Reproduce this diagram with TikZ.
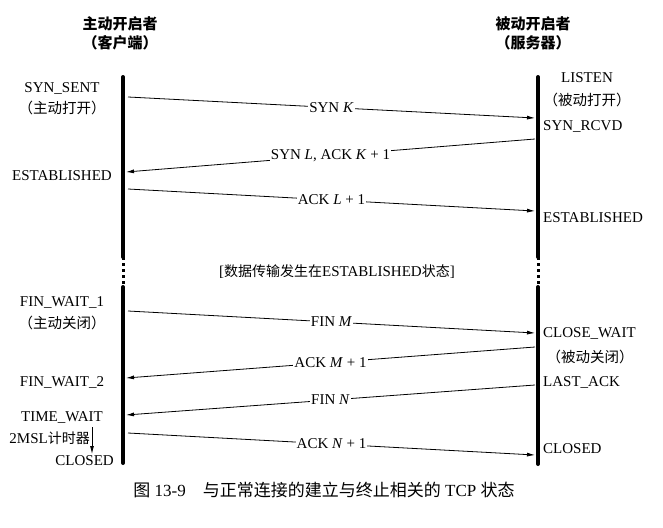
\documentclass[tikz,border=0pt]{standalone}
\usepackage{fontspec}
\setmainfont{Liberation Serif}
\newfontfamily\cjk{Noto Sans CJK SC}
\usetikzlibrary{arrows.meta,positioning}
\tikzset
{
    header/.style   = {font=\cjk\bfseries\fontsize{15}{19}\selectfont, align=center},
    state/.style    = {font=\fontsize{15}{17}\selectfont, inner sep=0pt},
    remark/.style   = {font=\cjk\fontsize{14.5}{17}\selectfont, inner sep=0pt},
    message/.style  = {font=\fontsize{15}{17}\selectfont, fill=white, inner sep=1pt},
    lifeline/.style = {line width=4pt, line cap=round},
    gapline/.style  = {line width=3pt, dash pattern=on 2.5pt off 3.5pt},
    arrow/.style    = {->, >={Latex[length=8pt, width=4pt]}, line width=0.8pt}
}

\begin{document}
\begin{tikzpicture}[x=1pt, y=-1pt]
   \newcommand\LEFTX{62}
   \newcommand\RIGHTX{543}
   \newcommand\NOTEDY{19}
   \useasboundingbox (0, 0) rectangle (663, 527);

   %% lifelines
   \coordinate (lt)  at (123, 77);
   \coordinate (lg1) at (123, 257);
   \coordinate (lg2) at (123, 287);
   \coordinate (lb)  at (123, 463);
   \coordinate (rt)  at (538, 77);
   \coordinate (rg1) at (538, 257);
   \coordinate (rg2) at (538, 287);
   \coordinate (rb)  at (538, 464);
   \draw[lifeline] (lt) -- (lg1) (lg2) -- (lb);
   \draw[lifeline] (rt) -- (rg1) (rg2) -- (rb);
   \draw[gapline]  (lg1) -- (lg2);
   \draw[gapline]  (rg1) -- (rg2);

   %% ends of the messages on the lifelines
   \coordinate (l1) at (128, 97);   \coordinate (r1) at (535, 118);
   \coordinate (r2) at (535, 139);  \coordinate (l2) at (126, 172);
   \coordinate (l3) at (128, 189);  \coordinate (r3) at (535, 211);
   \coordinate (l4) at (128, 311);  \coordinate (r4) at (535, 333);
   \coordinate (r5) at (535, 347);  \coordinate (l5) at (126, 378);
   \coordinate (r6) at (535, 385);  \coordinate (l6) at (126, 415);
   \coordinate (l7) at (128, 433);  \coordinate (r7) at (535, 455);
   \coordinate (tmtop) at (92, 427);
   \coordinate (tmbot) at (92, 454);

   %% headers
   \node (client) [header]  at (120, 33)  {主动开启者\\（客户端）};
   \node (server) [header]  at (533, 33)  {被动开启者\\（服务器）};

   %% client states
   \node (sent)    [state]              at (\LEFTX, 89)                {SYN\_SENT};
   \node (sentn)   [remark]             at ([shift=({0, \NOTEDY})]sent) {（主动打开）};
   \node (estl)    [state]              at (\LEFTX, 176)               {ESTABLISHED};
   \node (fw1)     [state]              at (\LEFTX, 303)               {FIN\_WAIT\_1};
   \node (fw1n)    [remark]             at ([shift=({0, 20})]fw1)      {（主动关闭）};
   \node (fw2)     [state]              at (\LEFTX, 382)               {FIN\_WAIT\_2};
   \node (tw)      [state]              at (\LEFTX, 418)               {TIME\_WAIT};
   \node (msl)     [state, anchor=east] at (90, 438)                   {2MSL{\cjk\fontsize{14}{16}\selectfont 计时器}};
   \node (closedl) [state, anchor=east] at (114, 461)                  {CLOSED};

   %% server states
   \node (listen)  [state]              at (587, 78)                   {LISTEN};
   \node (listenn) [remark]             at ([shift=({0, 22})]listen)   {（被动打开）};
   \node (rcvd)    [state, anchor=west] at (\RIGHTX, 126)              {SYN\_RCVD};
   \node (estr)    [state, anchor=west] at (\RIGHTX, 218)              {ESTABLISHED};
   \node (cw)      [state, anchor=west] at (\RIGHTX, 333)              {CLOSE\_WAIT};
   \node (cwn)     [remark]             at (590, 357)                  {（被动关闭）};
   \node (lastack) [state, anchor=west] at (\RIGHTX, 382)              {LAST\_ACK};
   \node (closedr) [state, anchor=west] at (\RIGHTX, 449)              {CLOSED};

   \node (data) [state] at (337, 272) {[{\cjk\fontsize{14}{16}\selectfont 数据传输发生在}ESTABLISHED{\cjk\fontsize{14}{16}\selectfont 状态}]};

   \node (caption) [font=\fontsize{17}{20}\selectfont] at (324, 490)
      {{\cjk 图} 13-9\quad{\cjk 与正常连接的建立与终止相关的} TCP {\cjk 状态}};

   \path
      (l1)    edge[arrow]  node[message] {SYN \textit{K}} (r1)
      (r2)    edge[arrow]  node[message] {SYN \textit{L}, ACK \textit{K} + 1} (l2)
      (l3)    edge[arrow]  node[message] {ACK \textit{L} + 1} (r3)
      (l4)    edge[arrow]  node[message] {FIN \textit{M}} (r4)
      (r5)    edge[arrow]  node[message] {ACK \textit{M} + 1} (l5)
      (r6)    edge[arrow]  node[message] {FIN \textit{N}} (l6)
      (l7)    edge[arrow]  node[message] {ACK \textit{N} + 1} (r7)
      (tmtop) edge[arrow]  node {} (tmbot);
\end{tikzpicture}
\end{document}
